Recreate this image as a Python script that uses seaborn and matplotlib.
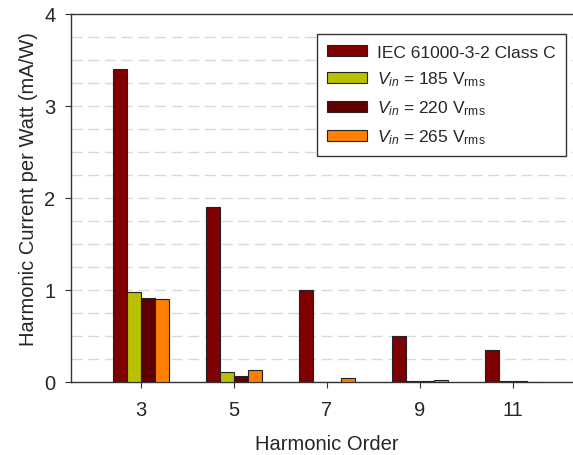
import numpy as np
import pandas as pd
import matplotlib
matplotlib.use("Agg")
import matplotlib.pyplot as plt
import seaborn as sns

orders = ["3", "5", "7", "9", "11"]
iec = [3.40, 1.90, 1.00, 0.50, 0.35]
v185 = [0.98, 0.105, 0.005, 0.015, 0.01]
v220 = [0.91, 0.07, 0.005, 0.015, 0.01]
v265 = [0.90, 0.13, 0.045, 0.025, 0.005]
series_names = ["IEC 61000-3-2 Class C",
                r"$V_{in}$ = 185 V$_{\mathrm{rms}}$",
                r"$V_{in}$ = 220 V$_{\mathrm{rms}}$",
                r"$V_{in}$ = 265 V$_{\mathrm{rms}}$"]
colors = ["#7f0000", "#b8c000", "#5e0000", "#ff8000"]

rows = []
for name, vals in zip(series_names, [iec, v185, v220, v265]):
    for o, v in zip(orders, vals):
        rows.append({"order": o, "value": v, "series": name})
df = pd.DataFrame(rows)

sns.set_style("white")
plt.rcParams["font.family"] = ["Liberation Sans", "DejaVu Sans"]
plt.rcParams["mathtext.fontset"] = "custom"
plt.rcParams["mathtext.rm"] = "Liberation Sans"
plt.rcParams["mathtext.it"] = "Liberation Sans:italic"

fig = plt.figure(figsize=(5.73, 4.56), dpi=100)
ax = fig.add_axes([71/573, 73/456, 502/573, 368/456])

sns.barplot(data=df, x="order", y="value", hue="series", order=orders,
            hue_order=series_names, palette=colors, width=0.6, gap=0,
            saturation=1, edgecolor="#222222", linewidth=0.8, ax=ax, zorder=3)

ax.set_xlim(-0.753, 4.645)
ax.set_ylim(0, 4)
ax.set_yticks([0, 1, 2, 3, 4])
for yv in np.arange(0.25, 4.0, 0.25):
    ax.axhline(yv, color="#d9d9d9", linestyle=(0, (8, 4)), linewidth=1.0, zorder=0)

ax.set_xlabel("Harmonic Order", fontsize=14.5)
ax.set_ylabel("Harmonic Current per Watt (mA/W)", fontsize=14.5)
ax.xaxis.set_label_coords(0.51, -0.141)
ax.yaxis.set_label_coords(-0.066, 0.527)
ax.tick_params(axis="both", labelsize=14.5, direction="out", length=4.3,
               width=0.8, color="#333333", bottom=True, left=True)
ax.tick_params(axis="x", pad=8.5)
ax.tick_params(axis="y", pad=7)

for s in ["left", "bottom", "top"]:
    ax.spines[s].set_visible(True)
    ax.spines[s].set_color("#333333")
    ax.spines[s].set_linewidth(1.0)
ax.spines["right"].set_visible(False)

leg = ax.legend(loc="upper left", bbox_to_anchor=(0.49, 0.945),
                borderaxespad=0, fontsize=12.5, frameon=True, fancybox=False,
                edgecolor="#333333", framealpha=1, handlelength=2.27,
                handleheight=0.6, labelspacing=0.58, borderpad=0.6,
                handletextpad=0.6)
leg.get_frame().set_linewidth(1.0)

fig.savefig("out.png", dpi=100)
